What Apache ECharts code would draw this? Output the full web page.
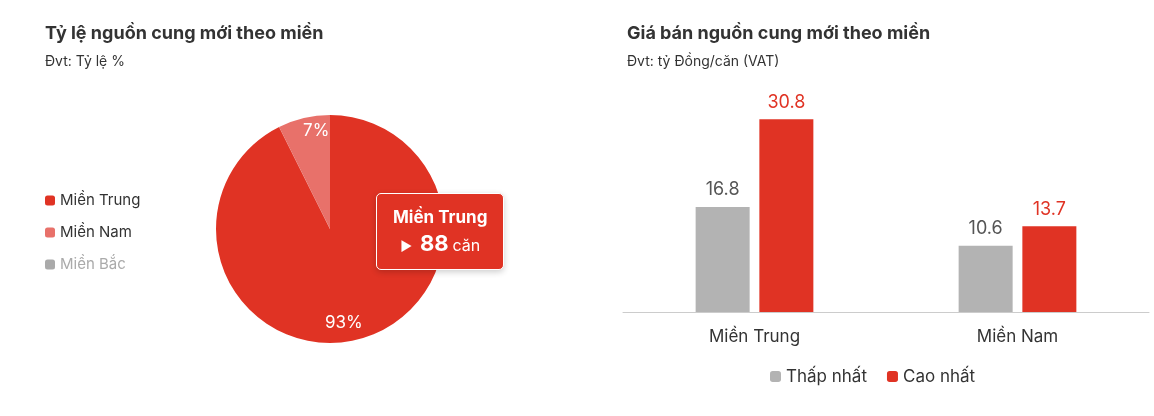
<!DOCTYPE html>
<html><head><meta charset="utf-8">
<script src="https://cdn.jsdelivr.net/npm/echarts@6/dist/echarts.min.js"></script>
<style>html,body{margin:0;background:#fff}#c{width:1154px;height:416px}</style>
</head><body><div id="c"></div>
<script>
const pieNames = ['Miền Trung','Miền Nam','Miền Bắc'];
const pieValues = [88, 7, 0];
const pieColors = ['#e03324','#e8716a','#aaaaaa'];
const barCategories = ['Miền Trung','Miền Nam'];
const lowValues = [16.8, 10.6];
const highValues = [30.8, 13.7];
const total = pieValues.reduce((a,b)=>a+b,0);
const F = 'Inter, "Noto Sans", sans-serif';
const chart = echarts.init(document.getElementById('c'));
chart.setOption({
  animation:false,
  textStyle:{fontFamily:F},
  title:[
    {text:'Tỷ lệ nguồn cung mới theo miền',subtext:'Đvt: Tỷ lệ %',left:40,top:20,itemGap:12,
     textStyle:{fontSize:18,fontWeight:'bold',color:'#333',fontFamily:F},
     subtextStyle:{fontSize:14,color:'#333',fontFamily:F}},
    {text:'Giá bán nguồn cung mới theo miền',subtext:'Đvt: tỷ Đồng/căn (VAT)',left:622,top:20,itemGap:12,
     textStyle:{fontSize:18,fontWeight:'bold',color:'#333',fontFamily:F},
     subtextStyle:{fontSize:14,color:'#333',fontFamily:F}}
  ],
  tooltip:{trigger:'item',alwaysShowContent:true,triggerOn:'none',
    backgroundColor:'#e03324',borderColor:'#fff',borderWidth:1,padding:[10,16],
    extraCssText:'box-shadow:0 2px 6px rgba(0,0,0,0.2);border-radius:5px;',
    position:[376,193],
    formatter:p=>'<div style="color:#fff;font-family:Inter,sans-serif;text-align:center;line-height:26px"><div style="font-size:17px;font-weight:bold">'+p.name+'</div><div><span style="font-size:13px">▶</span>&nbsp;&nbsp;<b style="font-size:22px">'+p.value+'</b> <span style="font-size:16px">căn</span></div></div>'},
  legend:[
    {orient:'vertical',left:40,top:188,itemWidth:10,itemHeight:10,itemGap:17,icon:'roundRect',
     data:pieNames.map((n,i)=>({name:n,textStyle:{color:i==2?'#aaa':'#333'}})),
     textStyle:{fontSize:15,fontFamily:F},selectedMode:false},
    {bottom:26,left:'center',left:765,itemWidth:11,itemHeight:11,itemGap:20,icon:'roundRect',
     data:['Thấp nhất','Cao nhất'],textStyle:{fontSize:17,color:'#333',fontFamily:F},selectedMode:false}
  ],
  grid:{left:623,right:5,top:93,bottom:104},
  xAxis:{type:'category',data:barCategories,axisLine:{lineStyle:{color:'#ccc'}},
    axisTick:{lineStyle:{color:'#ccc'}},axisLabel:{fontSize:17,color:'#333',margin:16}},
  yAxis:{type:'value',min:0,max:35,show:false,splitLine:{show:false}},
  series:[
    {type:'pie',radius:114,center:[330,229],startAngle:90,clockwise:true,
     data:pieNames.map((n,i)=>({name:n,value:pieValues[i],itemStyle:{color:pieColors[i]},label:{show:pieValues[i]>0}})),
     label:{position:'inner',color:'#fff',fontSize:17,fontFamily:F,
       formatter:p=>Math.round(p.value/total*100)+'%'},
     labelLayout:p=>p.dataIndex===1?{dy:-40}:{dy:35},
     emphasis:{disabled:true}},
    {type:'bar',name:'Thấp nhất',data:lowValues,barWidth:54,barGap:'18%',itemStyle:{color:'#b3b3b3'},
     label:{show:true,position:'top',color:'#555',fontSize:18,distance:8}},
    {type:'bar',name:'Cao nhất',data:highValues,barWidth:54,itemStyle:{color:'#e03324'},
     label:{show:true,position:'top',color:'#e03324',fontSize:18,distance:8}}
  ]
});
chart.dispatchAction({type:'showTip',seriesIndex:0,dataIndex:0});
</script></body></html>
